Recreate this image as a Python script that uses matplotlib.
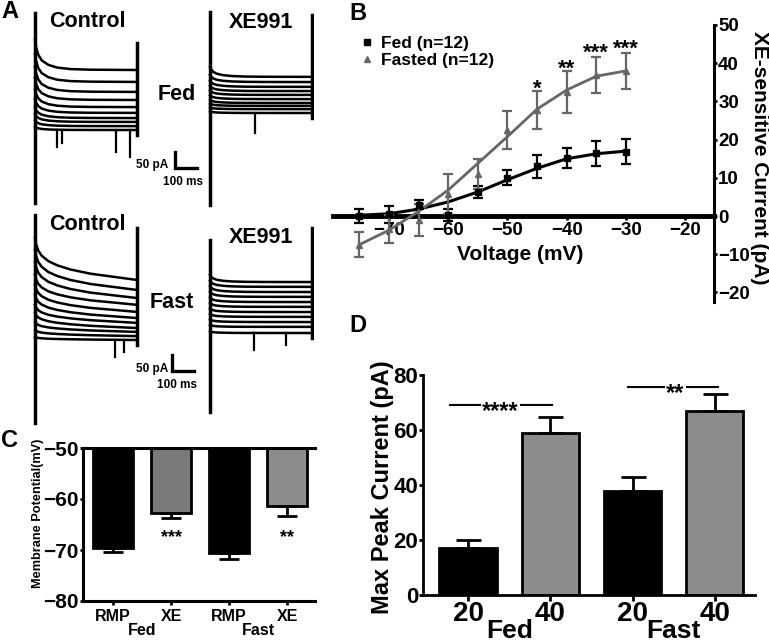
import numpy as np
import matplotlib.pyplot as plt
from matplotlib.lines import Line2D

plt.rcParams['font.family'] = ['Liberation Sans', 'DejaVu Sans']
plt.rcParams['font.weight'] = 'bold'

W, H = 769, 643

# ---------------- A: current traces (pA vs ms) ----------------
step_ms = 460
decay_t = [0, 5, 15, 30, 60, 100, 160, 250, 460]
decay_frac = [1, 0.75, 0.5, 0.32, 0.17, 0.08, 0.03, 0.01, 0]
decay_frac_fast = [1, 0.85, 0.7, 0.58, 0.45, 0.35, 0.25, 0.15, 0]

fed_ctrl_start = [280, 235, 195, 160, 125, 95, 70, 50, 30, 10]
fed_ctrl_steady = [186, 149, 118, 93, 71, 53, 37, 25, 12, 0]
fed_ctrl_cap = [-226, 363]
fed_ctrl_tail = 270
fed_ctrl_spk_t = [99, 122, 365, 428]
fed_ctrl_spk_i = [-53, -40, -68, -84]

fed_xe_start = [143, 118, 100, 84, 70, 55, 41, 29, 17, 5]
fed_xe_steady = [112, 96, 81, 68, 56, 43, 31, 22, 12, 0]
fed_xe_cap = [-285, 313]
fed_xe_tail = 304
fed_xe_spk_t = [203]
fed_xe_spk_i = [-62]

fast_ctrl_start = [316, 279, 242, 202, 171, 140, 109, 84, 56, 31, 9]
fast_ctrl_steady = [186, 155, 130, 109, 87, 68, 53, 37, 25, 12, 0]
fast_ctrl_cap = [-257, 388]
fast_ctrl_tail = 347
fast_ctrl_spk_t = [360, 400]
fast_ctrl_spk_i = [-53, -37]

fast_xe_start = [180, 162, 145, 128, 110, 93, 76, 59, 42, 25, 5]
fast_xe_steady = [158, 143, 127, 112, 96, 81, 65, 50, 34, 19, 0]
fast_xe_cap = [-245, 288]
fast_xe_tail = 325
fast_xe_spk_t = [198, 342]
fast_xe_spk_i = [-53, -37]

# ---------------- B: XE-sensitive I-V ----------------
volt = [-75, -70, -65, -60, -55, -50, -45, -40, -35, -30]
fed_i = [0, 0.5, 3, 0.3, 6.3, 10, 13, 15.3, 16.4, 16.8]
fed_err = [1.8, 2.2, 1.2, 1.6, 1.6, 2, 3, 2.6, 3.2, 3.3]
fast_i = [-7.5, -3.4, -1, 5.8, 11, 22.5, 27.8, 32.5, 37, 38]
fast_err = [3.2, 3.6, 4.2, 5.2, 4, 5, 5, 5.5, 4.7, 4.7]
fed_fit = [0.2, 0.6, 1.8, 3.7, 6.3, 9.5, 12.5, 15, 16.3, 17]
fast_fit = [-7.5, -3.7, 1.2, 6.8, 13.8, 20.8, 28, 33, 36.6, 38]
b_star_v = [-45, -40, -35, -30]
b_star_y = [31.7, 36.9, 41.1, 42.1]
b_stars = ['*', '**', '***', '***']

# ---------------- C: membrane potential ----------------
c_labels = ['RMP', 'XE', 'RMP', 'XE']
c_vals = [-69.6, -62.7, -70.6, -61.4]
c_err = [0.7, 1.1, 1.2, 1.9]
c_stars = ['', '***', '', '**']
c_groups = ['Fed', 'Fast']

# ---------------- D: max peak current ----------------
d_labels = ['20', '40', '20', '40']
d_vals = [17, 58.8, 38, 67]
d_err = [3, 6, 5, 6]
d_groups = ['Fed', 'Fast']

fig = plt.figure(figsize=(W / 100, H / 100), dpi=100)


def rect(x0, y0, x1, y1):
    return [x0 / W, 1 - y1 / H, (x1 - x0) / W, (y1 - y0) / H]


def ftext(x, y, s, size, **kw):
    kw.setdefault('ha', 'center')
    kw.setdefault('va', 'baseline')
    fig.text(x / W, 1 - y / H, s, fontsize=size, fontweight='bold', **kw)


PA_PX = 3.1   # pA per pixel
MS_PX = 4.5   # ms per pixel


def trace_panel(x0, base, t_hi, start, steady, cap, tail, spk_t, spk_i, frac):
    t_lo, i_lo, i_hi = -10, -300, 400
    left = x0 + t_lo / MS_PX
    top = base - i_hi / PA_PX
    ax = fig.add_axes(rect(left, top, left + (t_hi - t_lo) / MS_PX,
                           top + (i_hi - i_lo) / PA_PX))
    ax.set_xlim(t_lo, t_hi)
    ax.set_ylim(i_lo, i_hi)
    ax.axis('off')
    t = np.array(decay_t)
    f = np.array(frac)
    for s0, s1 in zip(start, steady):
        ax.plot(t, s1 + (s0 - s1) * f, color='black', lw=1.8)
    ax.plot([0, 0], cap, color='black', lw=2.5)
    ax.plot([step_ms, step_ms], [-15, tail], color='black', lw=2.5)
    for ts, i in zip(spk_t, spk_i):
        ax.plot([ts, ts], [0, i], color='black', lw=1.6)
    return ax


ax_fc = trace_panel(35, 130, 760, fed_ctrl_start, fed_ctrl_steady, fed_ctrl_cap,
                    fed_ctrl_tail, fed_ctrl_spk_t, fed_ctrl_spk_i, decay_frac)
trace_panel(210, 113, 470, fed_xe_start, fed_xe_steady, fed_xe_cap,
            fed_xe_tail, fed_xe_spk_t, fed_xe_spk_i, decay_frac)
ax_sc = trace_panel(35, 340, 760, fast_ctrl_start, fast_ctrl_steady, fast_ctrl_cap,
                    fast_ctrl_tail, fast_ctrl_spk_t, fast_ctrl_spk_i, decay_frac_fast)
trace_panel(210, 333, 470, fast_xe_start, fast_xe_steady, fast_xe_cap,
            fast_xe_tail, fast_xe_spk_t, fast_xe_spk_i, decay_frac)

# scale bars: 50 pA / 100 ms
for ax, t0, i0 in [(ax_fc, 630, -118), (ax_sc, 616, -96)]:
    ax.plot([t0, t0, t0 + 100], [i0 + 50, i0, i0], color='black', lw=2.4,
            solid_joinstyle='miter')

ftext(10, 18, 'A', 17)
ftext(87, 27, 'Control', 15.5)
ftext(261, 28, 'XE991', 15.5)
ftext(177, 100, 'Fed', 15.5)
ftext(87, 230, 'Control', 15.5)
ftext(261, 243, 'XE991', 15.5)
ftext(172, 308, 'Fast', 15.5)
ftext(152, 168, '50 pA', 8.5)
ftext(183, 185, '100 ms', 8.5)
ftext(152, 372, '50 pA', 8.5)
ftext(177, 388, '100 ms', 8.5)

# ---------------- B ----------------
gray_b = '#666666'
axB = fig.add_axes(rect(333, 25, 714, 302))
axB.plot(volt, fed_fit, color='black', lw=2.2, zorder=3)
axB.plot(volt, fast_fit, color=gray_b, lw=2, zorder=3)
axB.errorbar(volt, fed_i, yerr=fed_err, fmt='s', color='black', ms=4.5,
             capsize=3.6, elinewidth=1.6, capthick=1.6, zorder=4)
axB.errorbar(volt, fast_i, yerr=fast_err, fmt='^', color=gray_b, ms=5,
             capsize=3.6, elinewidth=1.6, capthick=1.6, zorder=4)
axB.set_xlim(-79.44, -15.16)
axB.set_ylim(-22.5, 50)
axB.spines['bottom'].set_position(('data', 0))
axB.spines['bottom'].set_linewidth(3.5)
axB.spines['right'].set_linewidth(2.2)
axB.spines['left'].set_visible(False)
axB.spines['top'].set_visible(False)
axB.yaxis.tick_right()
axB.set_xticks([-70, -60, -50, -40, -30, -20])
axB.set_yticks(range(-20, 51, 10))
axB.tick_params(axis='x', length=3, width=2, pad=1.5, labelsize=13.5)
axB.tick_params(axis='y', length=2, width=2, pad=1, labelsize=13.5)
for v, y, s in zip(b_star_v, b_star_y, b_stars):
    axB.text(v, y, s, ha='center', va='baseline', fontsize=16)
handles = [Line2D([], [], ls='none', marker='s', color='black', ms=4.5),
           Line2D([], [], ls='none', marker='^', color=gray_b, ms=5)]
axB.legend(handles, ['Fed (n=12)', 'Fasted (n=12)'], loc='upper left',
           bbox_to_anchor=(362 / W, 1 - 36 / H), bbox_transform=fig.transFigure,
           frameon=False, fontsize=12.5, handlelength=0.6, handletextpad=0.5,
           labelspacing=0.1, borderpad=0, borderaxespad=0)
ftext(358, 20, 'B', 17)
ftext(520, 260, 'Voltage (mV)', 15)
ftext(760, 158, 'XE-sensitive Current (pA)', 15, rotation=-90, va='center')

# ---------------- C ----------------
xc = np.arange(len(c_vals))
axC = fig.add_axes(rect(83, 448, 315, 601))
axC.bar(xc, [v + 50 for v in c_vals], bottom=-50, width=0.69,
        color=['black', '#7a7a7a', 'black', '#8c8c8c'], edgecolor='black', linewidth=2)
axC.errorbar(xc, c_vals, yerr=[c_err, [0] * 4], fmt='none', ecolor='black',
             elinewidth=2, capsize=7.5, capthick=2)
for x, s in zip(xc, c_stars):
    axC.text(x, -68.4, s, ha='center', va='baseline', fontsize=13)
axC.set_xlim(-0.52, 3.48)
axC.set_ylim(-80, -50)
axC.set_yticks([-80, -70, -60, -50])
axC.set_xticks(xc)
axC.set_xticklabels(c_labels)
axC.spines['right'].set_visible(False)
for s in ['left', 'bottom', 'top']:
    axC.spines[s].set_linewidth(2.2)
axC.tick_params(axis='y', length=2, width=2, pad=1, labelsize=15)
axC.tick_params(axis='x', length=3, width=2, pad=2.5, labelsize=11.5)
for i, g in enumerate(c_groups):
    axC.text(2 * i + 0.5, (601 - 635) / 153, g, transform=axC.get_xaxis_transform(),
             ha='center', va='baseline', fontsize=11.5)
ftext(9, 447, 'C', 17)
ftext(38, 513, 'Membrane Potential(mV)', 9.2, rotation=90, va='center')

# ---------------- D ----------------
xd = np.arange(len(d_vals))
axD = fig.add_axes(rect(423, 375, 755, 595))
axD.bar(xd, d_vals, width=0.7, color=['black', '#8c8c8c', 'black', '#8c8c8c'],
        edgecolor='black', linewidth=2)
axD.errorbar(xd, d_vals, yerr=[[0] * 4, d_err], fmt='none', ecolor='black',
             elinewidth=2, capsize=9, capthick=2)
axD.plot([-0.22, 1.02], [69, 69], color='black', lw=1.5)
axD.text(0.39, 64.4, '****', ha='center', va='baseline', fontsize=17,
         bbox=dict(facecolor='white', edgecolor='none', pad=1))
axD.plot([1.95, 3.04], [75.6, 75.6], color='black', lw=1.5)
axD.text(2.52, 70.9, '**', ha='center', va='baseline', fontsize=17,
         bbox=dict(facecolor='white', edgecolor='none', pad=1))
axD.set_xlim(-0.55, 3.49)
axD.set_ylim(0, 80)
axD.set_yticks([0, 20, 40, 60, 80])
axD.set_xticks(xd)
axD.set_xticklabels(d_labels)
axD.spines['right'].set_visible(False)
axD.spines['top'].set_visible(False)
for s in ['left', 'bottom']:
    axD.spines[s].set_linewidth(2)
axD.tick_params(axis='y', length=3, width=2, pad=0.5, labelsize=16)
axD.tick_params(axis='x', length=4, width=2, pad=0.5, labelsize=20)
for i, g in enumerate(d_groups):
    axD.text(2 * i + 0.5, (595 - 638) / 220, g, transform=axD.get_xaxis_transform(),
             ha='center', va='baseline', fontsize=19)
ftext(358, 332, 'D', 17)
ftext(383, 487, 'Max Peak Current (pA)', 17, rotation=90, va='center')

fig.savefig('out.png', dpi=100)
